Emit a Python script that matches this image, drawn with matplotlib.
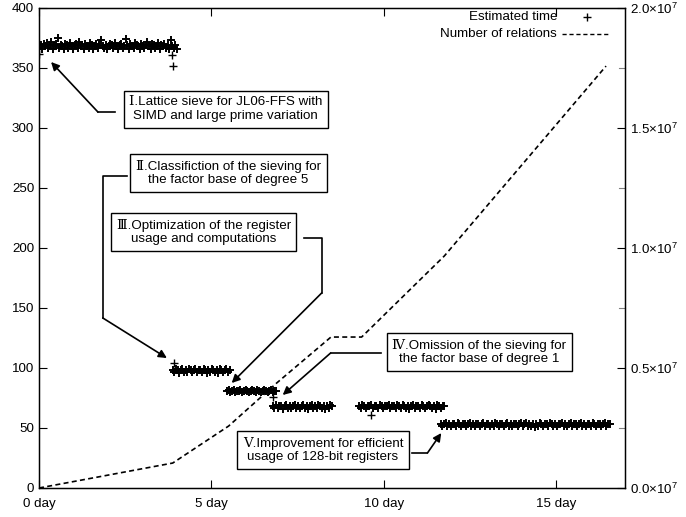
import numpy as np
import matplotlib
matplotlib.use("Agg")
import matplotlib.pyplot as plt

plt.rcParams['font.family'] = ['Liberation Sans', 'DejaVu Serif']
plt.rcParams['font.size'] = 9.6
plt.rcParams['mathtext.fontset'] = 'custom'
plt.rcParams['mathtext.rm'] = 'Liberation Sans'

# estimated time (sec) per run segment
seg_start = [0.0, 3.88, 5.45, 6.78, 9.28, 11.65]
seg_end = [4.0, 5.53, 6.88, 8.5, 11.76, 16.56]
seg1 = [367, 369, 366, 370, 368, 371, 367, 369, 372, 366,
        368, 370, 375, 367, 369, 368, 366, 370, 369, 367,
        371, 368, 366, 369, 370, 367, 372, 368, 369, 366,
        370, 368, 367, 371, 369, 366, 368, 370, 367, 369,
        373, 368, 367, 369, 366, 368, 370, 369, 367, 371,
        368, 366, 369, 370, 367, 368, 374, 369, 366, 370,
        368, 367, 371, 369, 368, 366, 370, 368, 367, 369,
        372, 368, 366, 370, 369, 367, 368, 371, 366, 369,
        368, 370, 367, 369, 366, 373, 368, 367, 369, 366]
seg2 = [98, 97, 99, 98, 96, 98, 99, 97, 98, 97, 99, 98, 97, 98, 99, 97, 98, 98,
        97, 99, 98, 96, 98, 97, 99, 98, 97, 98, 96, 99, 98, 97, 98, 99, 97, 98]
seg3 = [81, 82, 80, 81, 82, 80, 81, 81, 82, 80, 81, 82, 81, 80, 81,
        82, 81, 80, 82, 81, 80, 81, 82, 81, 80, 81, 82, 80, 81, 81]
seg4 = [68, 67, 69, 67, 68, 68, 66, 68, 69, 67, 68, 67, 68, 69, 67, 68, 67, 68,
        69, 67, 68, 66, 68, 69, 67, 68, 67, 69, 68, 67, 68, 66, 68, 67, 69, 68]
seg5 = [68, 67, 69, 68, 67, 68, 68, 69, 67, 68, 68, 67, 69, 68, 67, 68, 68, 69, 67, 68, 68, 67, 69, 68, 67,
        69, 68, 67, 68, 66, 68, 69, 67, 68, 68, 67, 69, 68, 67, 68, 69, 68, 67, 68, 66, 69, 68, 67, 68, 68]
seg6 = [53, 52, 53, 54, 52, 53, 52, 53, 53, 52, 54, 53, 52, 53, 53, 52, 53, 54, 52, 53,
        52, 53, 53, 52, 53, 54, 52, 53, 53, 52, 53, 52, 54, 53, 52, 53, 53, 52, 53, 54,
        52, 53, 52, 53, 53, 52, 53, 54, 52, 53, 54, 52, 53, 52, 53, 51, 53, 52, 54, 53,
        52, 53, 53, 52, 54, 53, 52, 53, 52, 53, 53, 54, 52, 53, 52, 53, 54, 52, 53, 53,
        52, 53, 54, 52, 53, 52, 53, 53, 52, 54, 53, 52, 53, 53, 52, 53, 54, 52, 53, 53]
out_days = [0.0, 3.87, 3.9, 3.93, 6.8, 9.64]
out_vals = [362, 361, 352, 104, 76, 61]

# number of relations
rel_days = [0, 3.88, 5.5, 6.9, 8.47, 9.36, 11.76, 16.45]
rel_vals = [0, 1.04e6, 2.58e6, 4.38e6, 6.29e6, 6.29e6, 9.67e6, 1.758e7]

x_ticks = [0, 5, 10, 15]
x_labels = ['0 day', '5 day', '10 day', '15 day']
y2_ticks = [0, 0.5e7, 1.0e7, 1.5e7, 2.0e7]
y2_labels = [r'$\mathregular{0.0{\times}10^{7}}$', r'$\mathregular{0.5{\times}10^{7}}$',
             r'$\mathregular{1.0{\times}10^{7}}$', r'$\mathregular{1.5{\times}10^{7}}$',
             r'$\mathregular{2.0{\times}10^{7}}$']

notes = [
    ("\u2160.Lattice sieve for JL06-FFS with\nSIMD and large prime variation",
     (5.42, 315.8), [(2.2, 313.3), (1.71, 313.3), (0.35, 355)]),
    ("\u2161.Classifiction of the sieving for\nthe factor base of degree 5",
     (5.5, 262.5), [(2.55, 260), (1.85, 260), (1.85, 141.7), (3.71, 108.3)]),
    ("\u2162.Optimization of the register\nusage and computations",
     (4.78, 213.3), [(7.7, 208.3), (8.2, 208.3), (8.2, 162.5), (5.59, 87.5)]),
    ("\u2163.Omission of the sieving for\nthe factor base of degree 1",
     (12.78, 113.3), [(9.93, 112.5), (8.46, 112.5), (7.07, 77.5)]),
    ("\u2164.Improvement for efficient\nusage of 128-bit registers",
     (8.24, 31.7), [(10.83, 29.2), (11.27, 29.2), (11.67, 45.8)]),
]

fig = plt.figure(figsize=(6.86, 5.17), dpi=100)
ax = fig.add_axes([39 / 686, 29 / 517, 586 / 686, 480 / 517])
ax2 = ax.twinx()

segs = [seg1, seg2, seg3, seg4, seg5, seg6]
for s, e, vals in zip(seg_start, seg_end, segs):
    ax.plot(np.linspace(s, e, len(vals)), vals, '+', color='black', ms=6, mew=1.4)
ax.plot(out_days, out_vals, '+', color='black', ms=6, mew=1.0)

ax2.plot(rel_days, rel_vals, color='black', lw=1.2, dashes=(3, 2))

ax.set_xlim(0, 17)
ax.set_ylim(0, 400)
ax2.set_ylim(0, 2.0e7)
ax.set_xticks(x_ticks)
ax.set_xticklabels(x_labels)
ax.set_yticks(np.arange(0, 401, 50))
ax2.set_yticks(y2_ticks)
ax2.set_yticklabels(y2_labels)
ax.tick_params(direction='in', length=6, top=True, right=False, width=0.8)
ax.tick_params(axis='x', pad=7)
ax2.tick_params(direction='in', length=6, width=0.8)
for sp in ax.spines.values():
    sp.set_linewidth(1.0)

# mirrored left ticks on right side
for v in np.arange(50, 400, 100):
    ax.plot([17 - 0.17, 17], [v, v], color='gray', lw=0.8, clip_on=False)

for text, pos, path in notes:
    xs = [p[0] for p in path]
    ys = [p[1] for p in path]
    ax.plot(xs[:-1], ys[:-1], color='black', lw=1.2)
    ax.annotate('', xy=path[-1], xytext=path[-2],
                arrowprops=dict(arrowstyle='-|>', color='black', lw=1.2,
                                mutation_scale=12, shrinkA=0, shrinkB=0))
    ax.text(pos[0], pos[1], text, ha='center', va='center', multialignment='center',
            bbox=dict(boxstyle='square,pad=0.42', fc='white', ec='black', lw=1.0))

# legend
ax.text(0.884, 0.981, 'Estimated time', ha='right', va='center', transform=ax.transAxes)
ax.plot([0.935], [0.981], '+', color='black', ms=6, mew=1.0, transform=ax.transAxes)
ax.text(0.884, 0.946, 'Number of relations', ha='right', va='center', transform=ax.transAxes)
ax.plot([0.892, 0.971], [0.946, 0.946], color='black', lw=1.0, dashes=(3, 2),
        transform=ax.transAxes)

fig.savefig('out.png', dpi=100)
